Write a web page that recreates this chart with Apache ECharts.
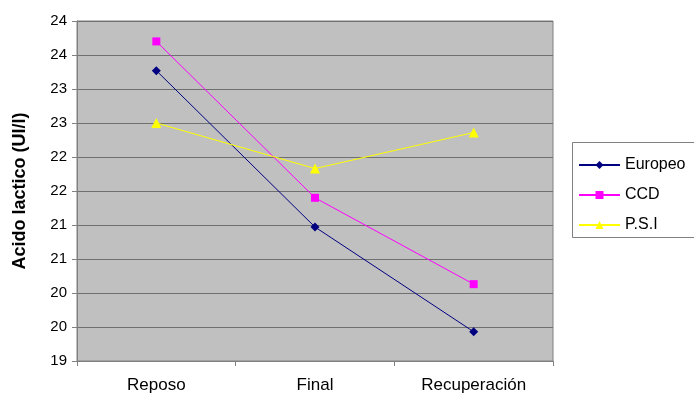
<!DOCTYPE html>
<html>
<head>
<meta charset="utf-8">
<script src="https://cdn.jsdelivr.net/npm/echarts@6/dist/echarts.min.js"></script>
<style>html,body{margin:0;padding:0;background:#fff;}#c{width:694px;height:400px;}</style>
</head>
<body>
<div id="c"></div>
<script>
var categories = ['Reposo', 'Final', 'Recuperación'];
var europeo = [23.27, 20.97, 19.43];
var ccd = [23.7, 21.4, 20.13];
var psi = [22.5, 21.83, 22.36];
var yTickLabels = ['19', '20', '20', '21', '21', '22', '22', '23', '23', '24', '24'];

var chart = echarts.init(document.getElementById('c'));
var font = 'Liberation Sans, Arial, sans-serif';
chart.setOption({
  animation: false,
  grid: { left: 77, right: 141, top: 21, bottom: 39, show: true, backgroundColor: '#C0C0C0', borderColor: '#808080', borderWidth: 1 },
  graphic: [{
    type: 'rect', left: 572, top: 142, z: -1,
    shape: { width: 200, height: 95 },
    style: { fill: '#fff', stroke: '#808080', lineWidth: 1 }
  }],
  xAxis: {
    type: 'category',
    data: categories,
    boundaryGap: true,
    axisLine: { lineStyle: { color: '#808080', width: 1 } },
    axisTick: { show: true, length: 5, lineStyle: { color: '#808080' } },
    axisLabel: { color: '#000', fontFamily: font, fontSize: 17, margin: 16 }
  },
  yAxis: {
    type: 'value',
    min: 19, max: 24, interval: 0.5,
    name: 'Acido lactico (UI/l)',
    nameLocation: 'middle',
    nameGap: 48,
    nameTextStyle: { color: '#000', fontFamily: font, fontSize: 18, fontWeight: 'bold' },
    axisLine: { show: true, lineStyle: { color: '#808080', width: 1 } },
    axisTick: { show: true, length: 5, lineStyle: { color: '#808080' } },
    splitLine: { lineStyle: { color: '#707070', width: 1 } },
    axisLabel: { color: '#000', fontFamily: font, fontSize: 15, margin: 10,
      formatter: function (v, i) { return yTickLabels[i]; } }
  },
  legend: {
    orient: 'vertical',
    left: 572, top: 142,
    padding: [15, 10, 9, 6],
    itemWidth: 41, itemHeight: 10, itemGap: 14,
    textStyle: { color: '#000', fontFamily: font, fontSize: 16, letterSpacing: 1 },
    data: ['Europeo', 'CCD', 'P.S.I']
  },
  series: [
    { name: 'Europeo', type: 'line', data: europeo, symbol: 'diamond', symbolSize: 9,
      lineStyle: { color: '#000080', width: 1 }, itemStyle: { color: '#000080' } },
    { name: 'CCD', type: 'line', data: ccd, symbol: 'rect', symbolSize: 8,
      lineStyle: { color: '#FF00FF', width: 1 }, itemStyle: { color: '#FF00FF' } },
    { name: 'P.S.I', type: 'line', data: psi, symbol: 'triangle', symbolSize: 10,
      lineStyle: { color: '#FFFF00', width: 1 }, itemStyle: { color: '#FFFF00' } }
  ]
});
</script>
</body>
</html>
